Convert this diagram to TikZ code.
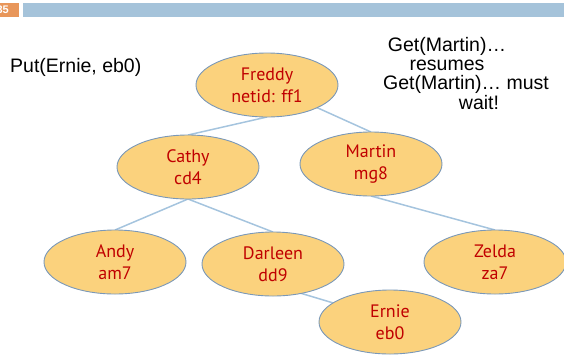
\documentclass[tikz,border=0pt]{standalone}
\usepackage{fontspec}
\setmainfont{Liberation Sans}
\newfontfamily\nodefont{PT Sans}
\usetikzlibrary{shapes.geometric,backgrounds,calc}
\definecolor{nodefill}{RGB}{251,210,125}
\definecolor{nodeline}{RGB}{122,152,184}
\definecolor{nodetext}{RGB}{192,0,0}
\definecolor{edgeblue}{RGB}{165,196,222}
\definecolor{barblue}{RGB}{165,195,218}
\definecolor{barorange}{RGB}{232,150,90}
\begin{document}
\begin{tikzpicture}[x=1pt,y=-1pt,
  person/.style={ellipse,draw=nodeline,line width=0.9pt,fill=nodefill,
    minimum width=142pt,minimum height=64pt,inner sep=0pt,outer sep=0pt,
    align=center,text=nodetext,font=\nodefont\fontsize{18}{22}\selectfont},
  link/.style={draw=edgeblue,line width=1.5pt},
  note/.style={inner sep=0pt,font=\fontsize{19.5}{20}\selectfont}]
\useasboundingbox (0,0) rectangle (564,357);
% header bar
\fill[barorange] (0,3) rectangle (19,17);
\node[text=white,inner sep=0pt,anchor=east,font=\bfseries\fontsize{11}{11}\selectfont] (num) at (9,10) {35};
\fill[barblue] (23,3) rectangle (564,17);
% tree nodes
\node[person] (freddy)  at (267,85)  {Freddy\\netid: ff1};
\node[person] (cathy)   at (188,167) {Cathy\\cd4};
\node[person] (martin)  at (371,164) {Martin\\mg8};
\node[person] (andy)    at (115,262) {Andy\\am7};
\node[person] (darleen) at (273,264) {Darleen\\dd9};
\node[person] (zelda)   at (495,262) {Zelda\\za7};
\node[person] (ernie)   at (390,322) {Ernie\\eb0};
% edges
\begin{pgfonlayer}{background}
\draw[link] (freddy.south) -- (cathy.north);
\draw[link] (freddy.center) -- (martin.north);
\draw[link] (cathy.south) -- (andy.north);
\draw[link] (cathy.south) -- (darleen.north);
\draw[link] (martin.south) -- (zelda.north);
\draw[link] ($(darleen.center)+(7,23)$) -- ($(ernie.center)+(-40,-14)$);
\end{pgfonlayer}
% notes
\node[note,anchor=base west] (put) at (10,72) {Put(Ernie, eb0)};
\node[note,anchor=base] (g1) at (447,51) {Get(Martin)…};
\node[note,anchor=base] (g2) at (447,70) {resumes};
\node[note,anchor=base] (g3) at (466,89) {Get(Martin)… must};
\node[note,anchor=base] (g4) at (479,109) {wait!};
\end{tikzpicture}
\end{document}
